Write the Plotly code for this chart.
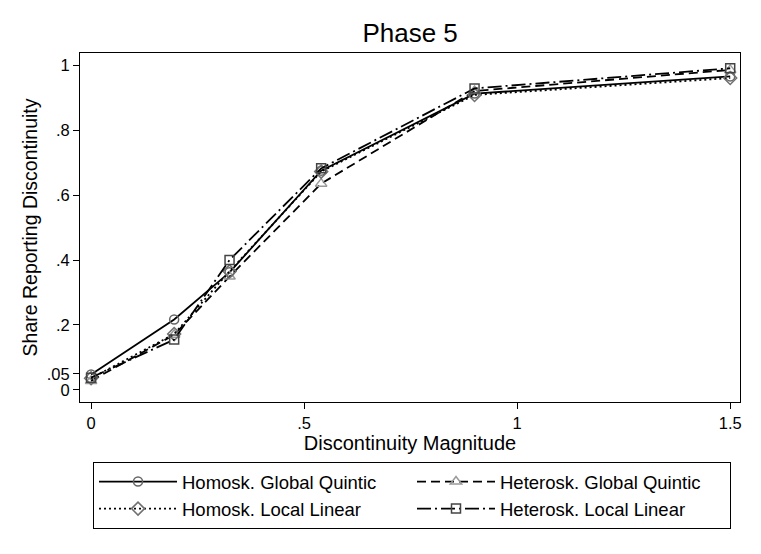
import plotly.graph_objects as go

x_vals = [0, 0.195, 0.325, 0.54, 0.90, 1.5]
homosk_global = [0.048, 0.217, 0.362, 0.675, 0.912, 0.965]
heterosk_global = [0.028, 0.170, 0.349, 0.635, 0.920, 0.985]
homosk_local = [0.036, 0.172, 0.365, 0.672, 0.908, 0.960]
heterosk_local = [0.038, 0.155, 0.400, 0.682, 0.928, 0.990]

series_names = ["Homosk. Global Quintic", "Heterosk. Global Quintic",
                "Homosk. Local Linear", "Heterosk. Local Linear"]

y_ticks = [0, 0.05, 0.2, 0.4, 0.6, 0.8, 1]
y_tick_labels = ["0", ".05", ".2", ".4", ".6", ".8", "1"]
x_ticks = [0, 0.5, 1, 1.5]
x_tick_labels = ["0", ".5", "1", "1.5"]

styles = [
    dict(dash="solid", symbol="circle-open", mcolor="#666666", size=9),
    dict(dash="9px,5px", symbol="triangle-up-open", mcolor="#9a9a9a", size=10),
    dict(dash="2px,3px", symbol="diamond-open", mcolor="#707070", size=10),
    dict(dash="14px,4px,2px,4px", symbol="square-open", mcolor="#444444", size=9),
]
data = [homosk_global, heterosk_global, homosk_local, heterosk_local]

fig = go.Figure()
for name, ys, st in zip(series_names, data, styles):
    fig.add_trace(go.Scatter(
        x=x_vals, y=ys, name=name, mode="lines+markers",
        line=dict(color="black", width=1.8, dash=st["dash"]),
        marker=dict(symbol=st["symbol"], size=st["size"], color=st["mcolor"],
                    line=dict(width=1.5, color=st["mcolor"])),
    ))

axis_common = dict(showline=True, linecolor="black", linewidth=1, mirror=True,
                   ticks="outside", ticklen=6, tickcolor="black", showgrid=False,
                   zeroline=False, tickfont=dict(size=16.5, color="black"))

# page body has an 8px default margin, so the figure is 8px smaller
fig.update_layout(
    width=753, height=546,
    paper_bgcolor="white", plot_bgcolor="white",
    font=dict(family="Liberation Sans, Arial, sans-serif", color="black"),
    title=dict(text="Phase 5", x=0.534, xanchor="center", y=0.954, yanchor="middle",
               font=dict(size=26, color="black")),
    margin=dict(l=72, r=21, t=45, b=152, autoexpand=False),
    xaxis=dict(range=[-0.026, 1.523], tickvals=x_ticks, ticktext=x_tick_labels,
               title=dict(text="Discontinuity Magnitude", font=dict(size=20), standoff=0),
               **axis_common),
    yaxis=dict(range=[-0.037, 1.037], tickvals=y_ticks, ticktext=y_tick_labels,
               title=dict(text="Share Reporting Discontinuity", font=dict(size=19.5), standoff=3),
               **axis_common),
    legend=dict(orientation="h", x=0.0197, xanchor="left", y=-0.172, yanchor="top",
                bordercolor="black", borderwidth=1, bgcolor="white",
                entrywidth=225, entrywidthmode="pixels", itemwidth=78,
                font=dict(size=18.5, color="black"), tracegroupgap=0),
)

fig.write_html("out.html")
